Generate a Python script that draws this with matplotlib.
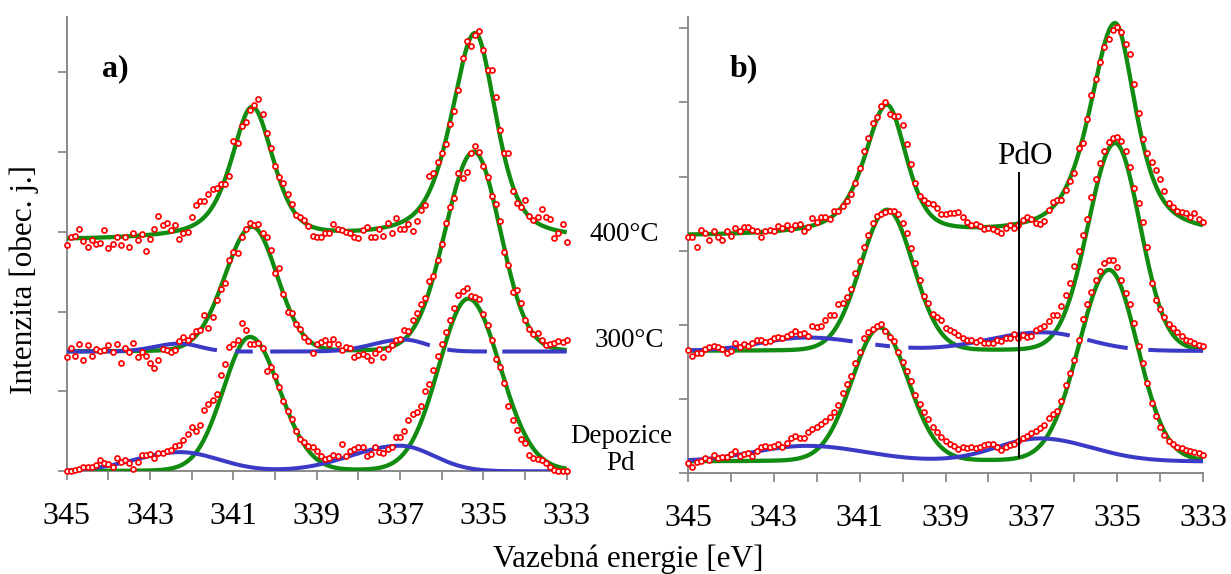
import numpy as np
import matplotlib
matplotlib.use("Agg")
import matplotlib.pyplot as plt

plt.rcParams["font.family"] = ["Liberation Serif", "DejaVu Serif"]

# binding-energy grid of the measured points (eV), 345.0 -> 333.0 in 0.1 eV steps
energy = np.round(np.linspace(345.0, 333.0, 121), 2)

# ---- measured Pd 3d intensities, panel a (stacked, arbitrary units)
a_400 = [2.83, 2.94, 2.95, 3.03, 2.89, 2.81, 2.90, 2.85, 2.86, 3.02,
         2.80, 2.85, 2.93, 2.84, 2.94, 2.81, 2.98, 2.90, 2.97, 2.76,
         2.91, 3.04, 3.20, 3.09, 3.11, 3.02, 3.08, 2.91, 2.98, 3.00,
         3.18, 3.33, 3.38, 3.38, 3.47, 3.53, 3.55, 3.60, 3.60, 3.70,
         4.14, 4.11, 4.32, 4.38, 4.52, 4.59, 4.66, 4.47, 4.24, 4.05,
         3.82, 3.68, 3.61, 3.47, 3.35, 3.21, 3.18, 3.15, 3.07, 2.95,
         2.93, 2.93, 2.98, 2.99, 3.10, 3.04, 3.02, 3.00, 2.99, 2.94,
         2.92, 3.02, 3.06, 2.94, 2.93, 3.04, 2.95, 3.11, 2.98, 3.17,
         3.03, 3.04, 3.10, 3.01, 3.13, 3.27, 3.34, 3.70, 3.74, 3.87,
         3.98, 4.10, 4.35, 4.51, 4.77, 5.17, 5.39, 5.32, 5.46, 5.51,
         5.27, 5.03, 5.03, 4.69, 4.27, 3.99, 3.98, 3.51, 3.36, 3.31,
         3.40, 3.20, 3.15, 3.18, 3.28, 3.18, 3.16, 2.92, 2.98, 3.10,
         2.87]
a_300 = [1.43, 1.55, 1.44, 1.60, 1.40, 1.58, 1.44, 1.53, 1.51, 1.52,
         1.58, 1.50, 1.60, 1.36, 1.54, 1.50, 1.61, 1.43, 1.50, 1.45,
         1.35, 1.29, 1.39, 1.53, 1.52, 1.50, 1.52, 1.63, 1.68, 1.64,
         1.69, 1.76, 1.77, 1.96, 1.80, 1.93, 2.14, 2.28, 2.36, 2.65,
         2.75, 2.73, 2.94, 3.03, 3.11, 3.08, 3.10, 2.98, 2.94, 2.77,
         2.48, 2.54, 2.22, 1.99, 1.98, 1.85, 1.78, 1.68, 1.63, 1.48,
         1.60, 1.62, 1.65, 1.60, 1.66, 1.60, 1.52, 1.56, 1.54, 1.43,
         1.46, 1.47, 1.44, 1.39, 1.48, 1.53, 1.43, 1.53, 1.58, 1.64,
         1.66, 1.77, 1.76, 1.90, 1.98, 2.09, 2.17, 2.38, 2.44, 2.64,
         2.85, 3.11, 3.31, 3.42, 3.73, 3.67, 3.75, 3.99, 4.07, 4.00,
         3.82, 3.69, 3.45, 3.35, 3.14, 2.74, 2.58, 2.25, 2.27, 2.11,
         1.89, 1.78, 1.72, 1.73, 1.65, 1.58, 1.60, 1.61, 1.63, 1.62,
         1.65]
a_dep = [0.00, 0.01, 0.02, 0.03, 0.05, 0.05, 0.06, 0.08, 0.14, 0.10,
         0.09, 0.05, 0.17, 0.12, 0.14, 0.10, 0.03, 0.12, 0.20, 0.21,
         0.22, 0.17, 0.23, 0.23, 0.25, 0.27, 0.32, 0.33, 0.39, 0.47,
         0.55, 0.51, 0.58, 0.77, 0.84, 0.89, 0.97, 1.21, 1.34, 1.56,
         1.60, 1.64, 1.86, 1.77, 1.60, 1.60, 1.61, 1.54, 1.26, 1.31,
         1.19, 1.06, 0.88, 0.76, 0.65, 0.51, 0.40, 0.37, 0.32, 0.30,
         0.25, 0.19, 0.16, 0.17, 0.21, 0.19, 0.34, 0.19, 0.26, 0.28,
         0.30, 0.30, 0.19, 0.22, 0.30, 0.24, 0.23, 0.28, 0.30, 0.43,
         0.43, 0.51, 0.64, 0.72, 0.74, 0.82, 1.01, 1.09, 1.27, 1.45,
         1.60, 1.74, 1.90, 2.04, 2.21, 2.26, 2.30, 2.20, 2.18, 2.16,
         1.97, 1.83, 1.65, 1.41, 1.31, 1.10, 0.82, 0.64, 0.52, 0.40,
         0.35, 0.20, 0.17, 0.16, 0.14, 0.10, 0.05, 0.02, 0.01, 0.01,
         0.00]

# ---- panel b
b_400 = [3.19, 3.18, 3.05, 3.28, 3.24, 3.14, 3.26, 3.18, 3.15, 3.27,
         3.20, 3.30, 3.27, 3.32, 3.32, 3.28, 3.27, 3.18, 3.27, 3.28,
         3.27, 3.33, 3.30, 3.34, 3.29, 3.34, 3.36, 3.27, 3.32, 3.44,
         3.39, 3.46, 3.46, 3.43, 3.54, 3.54, 3.60, 3.67, 3.77, 3.91,
         4.12, 4.35, 4.52, 4.72, 4.80, 4.95, 5.00, 4.84, 4.82, 4.82,
         4.70, 4.44, 4.17, 3.91, 3.74, 3.69, 3.64, 3.63, 3.58, 3.49,
         3.50, 3.51, 3.51, 3.52, 3.46, 3.39, 3.35, 3.36, 3.33, 3.29,
         3.31, 3.29, 3.27, 3.24, 3.31, 3.34, 3.31, 3.34, 3.42, 3.45,
         3.43, 3.37, 3.36, 3.40, 3.55, 3.66, 3.69, 3.69, 3.82, 3.94,
         4.05, 4.38, 4.45, 4.77, 5.10, 5.31, 5.54, 5.74, 5.86, 5.98,
         6.02, 5.95, 5.79, 5.65, 5.25, 4.85, 4.50, 4.32, 4.20, 4.09,
         3.96, 3.80, 3.64, 3.59, 3.54, 3.52, 3.51, 3.46, 3.51, 3.43,
         3.39]
b_300 = [1.66, 1.58, 1.62, 1.62, 1.68, 1.70, 1.71, 1.70, 1.68, 1.62,
         1.65, 1.76, 1.70, 1.74, 1.71, 1.76, 1.80, 1.80, 1.77, 1.78,
         1.82, 1.84, 1.83, 1.85, 1.88, 1.92, 1.88, 1.89, 1.85, 1.98,
         1.97, 1.99, 2.07, 2.14, 2.13, 2.28, 2.29, 2.37, 2.49, 2.70,
         2.86, 3.05, 3.21, 3.37, 3.47, 3.50, 3.52, 3.53, 3.54, 3.50,
         3.37, 3.24, 3.03, 2.84, 2.60, 2.39, 2.30, 2.15, 2.10, 2.06,
         1.96, 1.93, 1.91, 1.87, 1.83, 1.80, 1.79, 1.77, 1.79, 1.75,
         1.75, 1.76, 1.79, 1.78, 1.82, 1.83, 1.88, 1.83, 1.86, 1.84,
         1.85, 1.93, 1.96, 1.98, 2.05, 2.13, 2.13, 2.25, 2.40, 2.57,
         2.80, 3.00, 3.21, 3.43, 3.72, 3.97, 4.18, 4.35, 4.46, 4.52,
         4.53, 4.48, 4.35, 4.13, 3.85, 3.64, 3.39, 3.05, 2.56, 2.33,
         2.21, 2.10, 2.01, 1.96, 1.90, 1.85, 1.80, 1.78, 1.76, 1.73,
         1.71]
b_dep = [0.14, 0.09, 0.15, 0.17, 0.20, 0.18, 0.25, 0.20, 0.22, 0.22,
         0.26, 0.30, 0.23, 0.26, 0.28, 0.23, 0.30, 0.36, 0.37, 0.36,
         0.37, 0.39, 0.36, 0.41, 0.47, 0.50, 0.47, 0.48, 0.55, 0.60,
         0.62, 0.66, 0.70, 0.76, 0.82, 0.92, 1.08, 1.20, 1.31, 1.48,
         1.64, 1.82, 1.91, 1.95, 1.99, 2.01, 1.92, 1.84, 1.78, 1.63,
         1.50, 1.38, 1.25, 1.06, 0.93, 0.82, 0.73, 0.62, 0.55, 0.49,
         0.44, 0.40, 0.37, 0.33, 0.35, 0.34, 0.35, 0.34, 0.36, 0.38,
         0.39, 0.39, 0.36, 0.32, 0.36, 0.38, 0.39, 0.43, 0.47, 0.50,
         0.54, 0.57, 0.61, 0.65, 0.75, 0.80, 0.84, 0.98, 1.19, 1.35,
         1.53, 1.80, 2.08, 2.28, 2.44, 2.60, 2.73, 2.83, 2.87, 2.87,
         2.78, 2.60, 2.43, 2.28, 2.03, 1.71, 1.49, 1.22, 0.95, 0.77,
         0.63, 0.52, 0.44, 0.39, 0.36, 0.34, 0.31, 0.30, 0.29, 0.27,
         0.25]

# ---- fitted components
# each peak: (centre eV, height, HWHM high-BE side, HWHM low-BE side,
#             Lorentzian fraction high-BE side, Lorentzian fraction low-BE side)
a_400_bg = 2.89
a_400_peaks = [(340.55, 1.65, 0.60, 0.60, 0.65, 0.45),
               (335.20, 2.59, 0.68, 0.60, 0.60, 0.55)]
a_300_bg = 1.50
a_300_peaks = [(340.55, 1.56, 0.77, 0.71, 0.05, 0.05),
               (335.23, 2.50, 0.81, 0.75, 0.05, 0.05)]
a_300_oxide = [(342.28, 0.10, 0.70, 0.55, 0.0, 0.0),
               (336.92, 0.15, 0.85, 0.65, 0.0, 0.0)]
a_dep_bg = 0.0
a_dep_peaks = [(340.60, 1.68, 0.76, 0.84, 0.05, 0.05),
               (335.36, 2.16, 0.84, 0.90, 0.05, 0.05)]
a_dep_oxide = [(342.28, 0.24, 1.28, 1.11, 0.0, 0.0),
               (337.00, 0.32, 1.40, 0.95, 0.0, 0.0)]

b_400_bg = 3.19
b_400_peaks = [(340.37, 1.75, 0.62, 0.54, 0.65, 0.45),
               (335.05, 2.87, 0.70, 0.58, 0.60, 0.70)]
b_300_bg = 1.65
b_300_peaks = [(340.36, 1.90, 0.73, 0.72, 0.05, 0.05),
               (335.05, 2.80, 0.74, 0.69, 0.05, 0.05)]
b_300_oxide = [(342.23, 0.18, 1.25, 1.50, 0.0, 0.0),
               (336.73, 0.25, 1.50, 1.20, 0.0, 0.0)]
b_dep_bg = 0.16
b_dep_peaks = [(340.53, 1.80, 0.77, 0.78, 0.05, 0.05),
               (335.19, 2.58, 0.83, 0.78, 0.05, 0.05)]
b_dep_oxide = [(342.23, 0.21, 1.45, 1.60, 0.0, 0.0),
               (336.80, 0.31, 1.20, 1.40, 0.0, 0.0)]

# breaks of the long-dash line of the 300 °C oxide component (eV ranges)
a_dash_breaks = [(341.39, 340.96), (340.53, 340.12), (336.28, 335.87), (334.91, 334.55)]
b_dash_breaks = [(341.16, 340.64), (340.29, 339.87), (336.10, 335.70), (334.75, 334.28)]

# PdO reference position in panel b
pdo_energy = 337.28
pdo_span = (0.22, 4.05)

GREEN = "#118c11"
BLUE = "#3a3ac6"
RED = "#ff0000"
AXIS = "#8a8a8a"

fine = np.linspace(345.0, 333.0, 2401)


def component(E, c, h, w_hi, w_lo, eta_hi, eta_lo):
    hi = E >= c
    w = np.where(hi, w_hi, w_lo)
    eta = np.where(hi, eta_hi, eta_lo)
    k2 = ((E - c) / w) ** 2
    return h * (eta / (1.0 + k2) + (1.0 - eta) * np.exp(-np.log(2.0) * k2))


def envelope(E, bg, peaks):
    return bg + sum(component(E, *p) for p in peaks)


W, H = 1231, 574
fig = plt.figure(figsize=(W / 100, H / 100), dpi=100)


def px_axes(left, right, bottom, top):
    return fig.add_axes([left / W, 1 - bottom / H, (right - left) / W, (bottom - top) / H])


ax_a = px_axes(66.7, 566.7, 471.3, 17)
ax_b = px_axes(688.0, 1203.0, 473.3, 17)


def draw(ax, meas, bg, peaks, oxide=None, breaks=None):
    ax.plot(fine, envelope(fine, bg, peaks), color=GREEN, lw=3.1, zorder=3,
            solid_capstyle="butt")
    if oxide is not None:
        yb = envelope(fine, bg, oxide)
        if breaks:
            for hi_e, lo_e in breaks:
                yb = np.where((fine <= hi_e) & (fine >= lo_e), np.nan, yb)
        ax.plot(fine, yb, color=BLUE, lw=2.9, zorder=4, solid_capstyle="butt")
    ax.plot(energy, meas, ls="none", marker="o", ms=3.6, mfc="white", mec=RED,
            mew=1.25, zorder=5, clip_on=False)


draw(ax_a, a_400, a_400_bg, a_400_peaks)
draw(ax_a, a_300, a_300_bg, a_300_peaks, a_300_oxide, a_dash_breaks)
draw(ax_a, a_dep, a_dep_bg, a_dep_peaks, a_dep_oxide)

draw(ax_b, b_400, b_400_bg, b_400_peaks)
draw(ax_b, b_300, b_300_bg, b_300_peaks, b_300_oxide, b_dash_breaks)
draw(ax_b, b_dep, b_dep_bg, b_dep_peaks, b_dep_oxide)

ax_b.plot([pdo_energy, pdo_energy], pdo_span, color="black", lw=1.4, zorder=6)
ax_b.text(337.15, 4.17, "PdO", ha="center", va="baseline", fontsize=22.5)

xt = np.arange(333, 346)
for ax, ytop, nticks in [(ax_a, 5.689, 5), (ax_b, 6.15, 6)]:
    ax.set_xlim(345, 333)
    ax.set_ylim(0, ytop)
    ax.set_xticks(xt)
    ax.set_xticklabels([str(v) if v % 2 else "" for v in xt])
    ax.set_yticks(np.arange(0, nticks + 1))
    ax.set_yticklabels([])
    for s in ("top", "right"):
        ax.spines[s].set_visible(False)
    for s in ("left", "bottom"):
        ax.spines[s].set_color(AXIS)
        ax.spines[s].set_linewidth(1.4)
    ax.tick_params(direction="out", length=6.3, width=1.3, color=AXIS,
                   labelsize=23, pad=16, labelcolor="black")


def ftext(x, y, s, **kw):
    fig.text(x / W, 1 - y / H, s, **kw)


ftext(102, 76, "a)", fontsize=23, fontweight="bold", ha="left", va="baseline")
ftext(730, 76, "b)", fontsize=23, fontweight="bold", ha="left", va="baseline")
ftext(590, 241, "400°C", fontsize=19.5, ha="left", va="baseline")
ftext(595, 347, "300°C", fontsize=19.5, ha="left", va="baseline")
ftext(621, 443, "Depozice", fontsize=19.5, ha="center", va="baseline")
ftext(621, 470, "Pd", fontsize=19.5, ha="center", va="baseline")
ftext(628, 567, "Vazebná energie [eV]", fontsize=22.5, ha="center", va="baseline")
ftext(24.5, 280, "Intenzita [obec. j.]", fontsize=22.5, rotation=90,
      ha="center", va="center")

fig.savefig("out.png", dpi=100)
